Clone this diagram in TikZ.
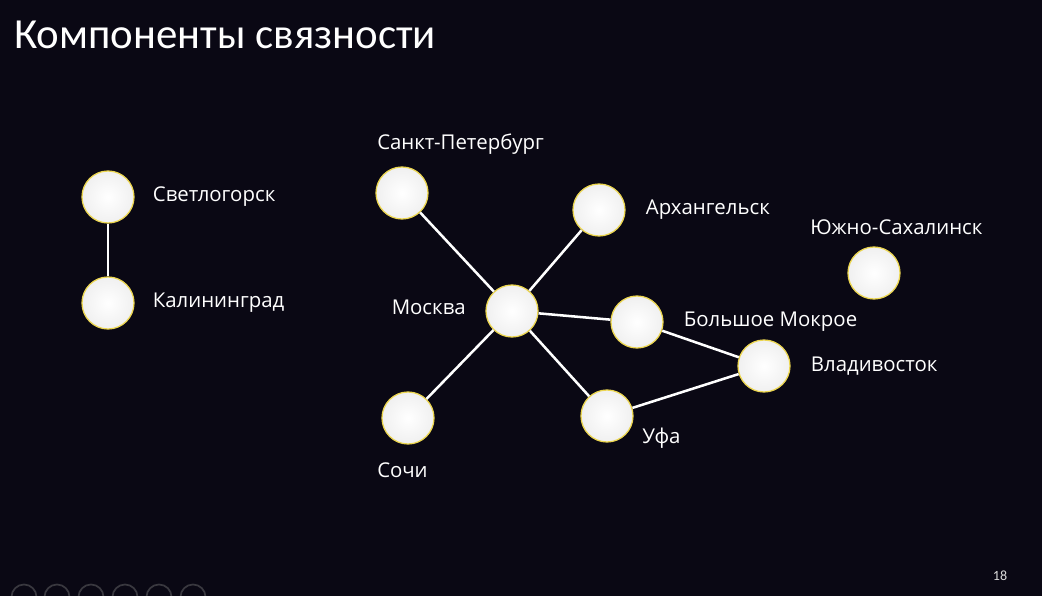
\documentclass[tikz,border=0pt]{standalone}
\usepackage{fontspec}
\setmainfont{Carlito}
\newfontfamily\labelfont{Open Sans}
\usepackage{xcolor}
\usetikzlibrary{positioning}

\definecolor{slidebg}{RGB}{10,8,20}
\definecolor{rimyellow}{RGB}{236,214,80}
\definecolor{ballgray}{RGB}{240,240,240}

\tikzset{
  city/.style = {circle, minimum size=1.3cm, inner sep=0pt, draw=rimyellow,
                 line width=0.9pt, inner color=white, outer color=ballgray},
  city label/.style = {text=white, font=\labelfont\fontsize{14.5}{17}\selectfont, inner sep=0pt},
  road/.style = {draw=white, line width=1.8pt},
}

\begin{document}
\begin{tikzpicture}[x=0.025cm, y=-0.025cm]
    \useasboundingbox (0,0) rectangle (1042,596);
    \clip (0,0) rectangle (1042,596);
    \fill[slidebg] (0,0) rectangle (1042,596);

    \node[anchor=west, text=white, inner sep=0pt,
          font=\fontsize{30.5}{36}\selectfont] (title) at (14,35) {Компоненты связности};

    % cities
    \node[city] (svet) at (108,197) {};
    \node[city] (kal)  at (108,303) {};
    \node[city] (spb)  at (402,193) {};
    \node[city] (arh)  at (599,210) {};
    \node[city] (msk)  at (512,311) {};
    \node[city] (bm)   at (637,322) {};
    \node[city] (vlad) at (764,366) {};
    \node[city] (ufa)  at (607,416) {};
    \node[city] (sochi) at (408,418) {};
    \node[city] (ysah) at (874,273) {};

    % labels
    \node[city label, right=0.45cm of svet] (svet l) {Светлогорск};
    \node[city label, right=0.45cm of kal]  (kal l)  {Калининград};
    \node[city label, right=0.5cm of arh]   (arh l)  {Архангельск};
    \node[city label, right=0.5cm of bm]    (bm l)   {Большое Мокрое};
    \node[city label, right=0.5cm of vlad]  (vlad l) {Владивосток};
    \node[city label, anchor=west] (spb l)   at (377,144) {Санкт-Петербург};
    \node[city label, anchor=east] (msk l)   at (466,307) {Москва};
    \node[city label, anchor=west] (ufa l)   at (642,438) {Уфа};
    \node[city label, anchor=west] (sochi l) at (377,470) {Сочи};
    \node[city label, anchor=west] (ysah l)  at (810,227) {Южно-Сахалинск};

    % roads
    \draw[road] (svet) -- (kal);
    \draw[road] (msk) -- (spb);
    \draw[road] (msk) -- (arh);
    \draw[road] (msk) -- (bm);
    \draw[road] (msk) -- (ufa);
    \draw[road] (msk) -- (sochi);
    \draw[road] (bm) -- (vlad);
    \draw[road] (ufa) -- (vlad);

    % page number and player buttons
    \node[text=white!85!black, font=\fontsize{10}{12}\selectfont] (pagenum) at (1000,576) {18};
    \foreach \bx in {24,57,91,125,159,193}
      \draw[gray!40!slidebg, line width=1.2pt] (\bx,597) circle (12.5);
\end{tikzpicture}
\end{document}
